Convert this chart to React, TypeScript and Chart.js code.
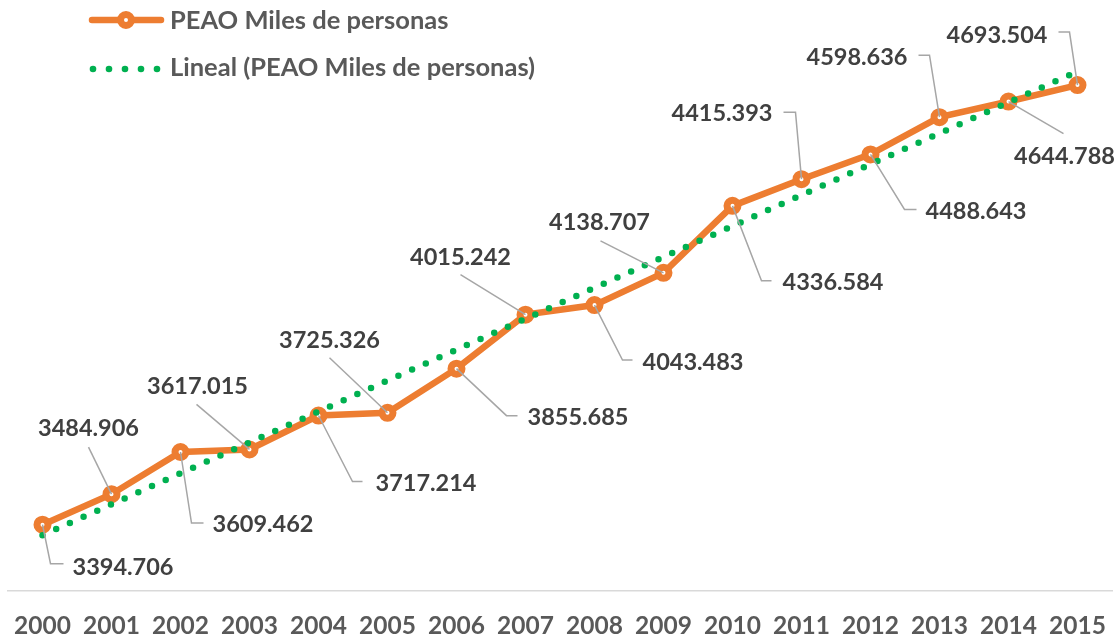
import { useEffect, useRef } from "react";
import { Chart, registerables } from "chart.js";

Chart.register(...registerables);

const years = ["2000", "2001", "2002", "2003", "2004", "2005", "2006", "2007", "2008", "2009", "2010", "2011", "2012", "2013", "2014", "2015"];
const peao = [3394.706, 3484.906, 3609.462, 3617.015, 3717.214, 3725.326, 3855.685, 4015.242, 4043.483, 4138.707, 4336.584, 4415.393, 4488.643, 4598.636, 4644.788, 4693.504];
const seriesName = "PEAO Miles de personas";
const trendName = "Lineal (PEAO Miles de personas)";
const yMin = 3200;
const yMax = 4800;

const ORANGE = "#ED7D31";
const GREEN = "#00B050";
const FONT = "Lato";

// Linear (least squares) trendline, as Excel's "Lineal" trendline
function linearTrend(values: number[]): number[] {
  const n = values.length;
  const mx = (n - 1) / 2;
  const my = values.reduce((a, b) => a + b, 0) / n;
  let sxy = 0;
  let sxx = 0;
  values.forEach((v, i) => {
    sxy += (i - mx) * (v - my);
    sxx += (i - mx) * (i - mx);
  });
  const slope = sxy / sxx;
  return values.map((_, i) => my + slope * (i - mx));
}
const trend = linearTrend(peao);

// data-label placement relative to each point (text anchor + leader line path)
type LabelLayout = { tx: number; ty: number; align: CanvasTextAlign; leader: number[][] };
const labelLayout: LabelLayout[] = [
  { tx: 30, ty: 43, align: "left", leader: [[0, 0], [8, 39], [21, 39]] },
  { tx: -23, ty: -66, align: "center", leader: [[0, 0], [-23, -47]] },
  { tx: 32, ty: 72, align: "left", leader: [[0, 0], [11, 71], [23, 71]] },
  { tx: -52, ty: -63, align: "center", leader: [[0, 0], [-53, -45]] },
  { tx: 57, ty: 68, align: "left", leader: [[0, 0], [34, 66], [44, 66]] },
  { tx: -58, ty: -72, align: "center", leader: [[0, 0], [-58, -55]] },
  { tx: 71, ty: 49, align: "left", leader: [[0, 0], [50, 47], [61, 47]] },
  { tx: -65, ty: -57, align: "center", leader: [[0, 0], [-65, -40]] },
  { tx: 48, ty: 57, align: "left", leader: [[0, 0], [28, 55], [38, 55]] },
  { tx: -64, ty: -50, align: "center", leader: [[0, 0], [-63, -32]] },
  { tx: 50, ty: 77, align: "left", leader: [[0, 0], [29, 75], [39, 75]] },
  { tx: -29, ty: -66, align: "right", leader: [[0, 0], [-6, -67], [-18, -67]] },
  { tx: 55, ty: 57, align: "left", leader: [[0, 0], [34, 55], [46, 55]] },
  { tx: -32, ty: -60, align: "right", leader: [[0, 0], [-10, -62], [-21, -62]] },
  { tx: 56, ty: 55, align: "center", leader: [[0, 0], [55, 32]] },
  { tx: -30, ty: -50, align: "right", leader: [[0, 0], [-8, -53], [-19, -53]] },
];

const labelsPlugin = {
  id: "peaoLabels",
  afterDatasetsDraw(chart: any) {
    const ctx = chart.ctx as CanvasRenderingContext2D;
    const meta = chart.getDatasetMeta(1);
    ctx.save();
    meta.data.forEach((pt: any, i: number) => {
      const L = labelLayout[i];
      const x = pt.x;
      const y = pt.y;
      ctx.strokeStyle = "#A6A6A6";
      ctx.lineWidth = 1.5;
      ctx.beginPath();
      L.leader.forEach((p, k) => {
        if (k === 0) ctx.moveTo(x + p[0], y + p[1]);
        else ctx.lineTo(x + p[0], y + p[1]);
      });
      ctx.stroke();
      ctx.fillStyle = "#404040";
      ctx.font = `bold 23.5px ${FONT}`;
      ctx.textAlign = L.align;
      ctx.textBaseline = "middle";
      ctx.fillText(peao[i].toFixed(3), x + L.tx, y + L.ty);
    });
    ctx.restore();
  },
  afterDraw(chart: any) {
    const ctx = chart.ctx as CanvasRenderingContext2D;
    ctx.save();
    // row 1: series
    ctx.strokeStyle = ORANGE;
    ctx.lineWidth = 6.5;
    ctx.lineCap = "round";
    ctx.beginPath();
    ctx.moveTo(92, 20);
    ctx.lineTo(161, 20);
    ctx.stroke();
    ctx.beginPath();
    ctx.arc(126, 20, 5.5, 0, Math.PI * 2);
    ctx.fillStyle = "#FFFFFF";
    ctx.fill();
    ctx.lineWidth = 7;
    ctx.stroke();
    // row 2: trendline
    ctx.fillStyle = GREEN;
    [93, 109, 125, 141, 157].forEach((dx) => {
      ctx.beginPath();
      ctx.arc(dx, 69, 3.3, 0, Math.PI * 2);
      ctx.fill();
    });
    ctx.fillStyle = "#595959";
    ctx.font = `bold 25.5px ${FONT}`;
    ctx.textAlign = "left";
    ctx.textBaseline = "middle";
    ctx.fillText(seriesName, 170, 21);
    ctx.fillText(trendName, 170, 68);
    ctx.restore();
  },
};

export default function App() {
  const ref = useRef<HTMLCanvasElement | null>(null);
  useEffect(() => {
    document.body.style.margin = "0";
    document.body.style.overflow = "hidden";
    const canvas = ref.current!;
    const chart = new Chart(canvas, {
      type: "line",
      data: {
        labels: years,
        datasets: [
          {
            label: trendName,
            data: trend,
            borderColor: GREEN,
            borderWidth: 6.5,
            borderDash: [0, 15],
            borderCapStyle: "round",
            pointRadius: 0,
            fill: false,
            order: 0,
          },
          {
            label: seriesName,
            data: peao,
            borderColor: ORANGE,
            borderWidth: 6.5,
            pointRadius: 5.5,
            pointBorderWidth: 7,
            pointBackgroundColor: "#FFFFFF",
            pointBorderColor: ORANGE,
            fill: false,
            order: 1,
          },
        ],
      },
      options: {
        animation: false,
        responsive: false,
        maintainAspectRatio: false,
        layout: { autoPadding: false, padding: { top: 49, left: 8, right: 8, bottom: -23 } },
        plugins: { legend: { display: false }, tooltip: { enabled: false } },
        scales: {
          x: {
            offset: true,
            grid: { display: false, drawTicks: false },
            border: { display: true, color: "#D9D9D9", width: 1.5 },
            ticks: {
              color: "#595959",
              font: { family: FONT, weight: "bold", size: 24.5 },
              padding: 21,
              maxRotation: 0,
              autoSkip: false,
            },
            afterFit(scale: any) {
              scale.paddingLeft = 0;
              scale.paddingRight = 0;
            },
          },
          y: { display: false, min: yMin, max: yMax },
        },
      },
      plugins: [labelsPlugin],
    });
    return () => chart.destroy();
  }, []);
  return <canvas ref={ref} width={1120} height={639} style={{ display: "block", width: 1120, height: 639 }} />;
}
